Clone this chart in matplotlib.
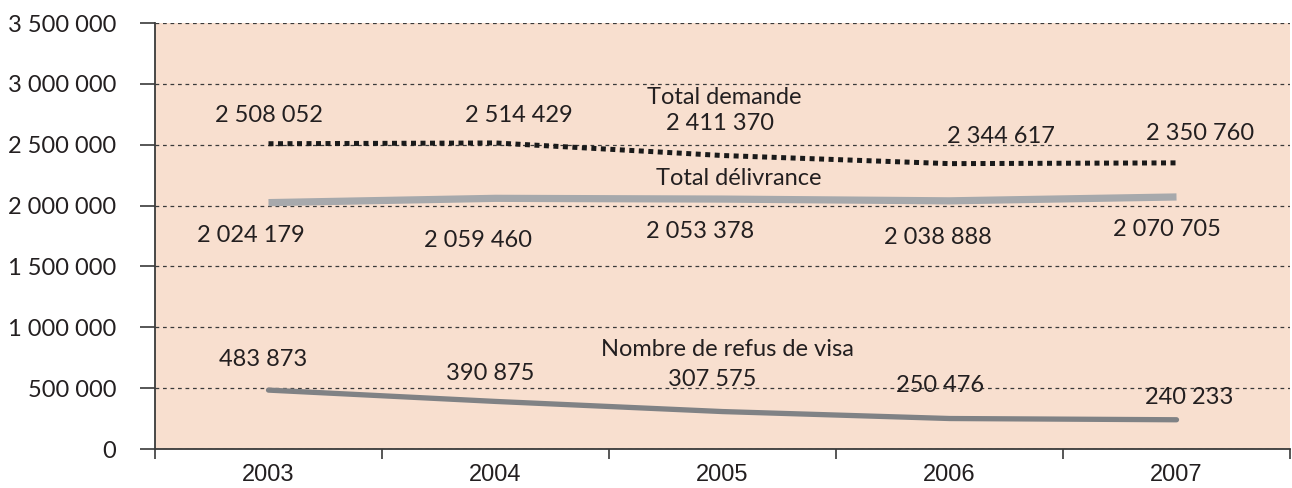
import matplotlib
matplotlib.use("Agg")
import matplotlib.pyplot as plt

years = ["2003", "2004", "2005", "2006", "2007"]
demande = [2508052, 2514429, 2411370, 2344617, 2350760]
delivrance = [2024179, 2059460, 2053378, 2038888, 2070705]
refus = [483873, 390875, 307575, 250476, 240233]
yticks = [0, 500000, 1000000, 1500000, 2000000, 2500000, 3000000, 3500000]

def fmt(v):
    return f"{v:,}".replace(",", " ")

plt.rcParams['font.family'] = ['Lato', 'DejaVu Sans']
fig = plt.figure(figsize=(12.92, 4.88), dpi=100)
ax = fig.add_axes([155/1292, 1-449/488, (1290-155)/1292, (449-23)/488])
ax.set_facecolor('#F8DFCF')

x = list(range(len(years)))
ax.plot(x, delivrance, color='#A7A9AC', lw=5.2, solid_capstyle='butt', zorder=3)
ax.plot(x, refus, color='#808285', lw=3.8, solid_capstyle='round', zorder=3)
ax.plot(x, demande, color='#1a1a1a', lw=3.6, linestyle=(0, (1, 0.9)), dash_capstyle='butt', zorder=3)

ax.set_xlim(-0.5, 4.5)
ax.set_ylim(0, 3500000)
ax.set_yticks(yticks)
ax.set_yticklabels([fmt(v) for v in yticks])
ax.set_xticks([i - 0.5 for i in range(len(years) + 1)])
ax.set_xticklabels([])
ax.set_xticks(x, minor=True)
ax.set_xticklabels(years, minor=True, family=['Liberation Sans', 'DejaVu Sans'])
ax.tick_params(axis='x', which='minor', length=0, pad=11, labelsize=17, colors='#231f20')
ax.tick_params(axis='x', which='major', length=7, width=1.2, color='#3a3a3a', direction='out')
ax.tick_params(axis='y', length=11, width=1.2, color='#3a3a3a', labelsize=17, labelcolor='#231f20', pad=17)

ax.grid(axis='y', linestyle=(0, (3, 3)), color='#3a3a3a', lw=0.9, zorder=1)
ax.set_axisbelow(True)
for s in ['top', 'right']:
    ax.spines[s].set_visible(False)
for s in ['left', 'bottom']:
    ax.spines[s].set_color('#3a3a3a')
    ax.spines[s].set_linewidth(1.3)

def px_x(p):
    return (p - 268) / 227.0

def px_y(p):
    return (449 - p) / 426.0 * 3500000

tc = '#231f20'
fs = 17
dem_pos = [(268, 115), (518, 115), (720, 124), (1000, 136), (1200, 133)]
del_pos = [(250, 236), (478, 240), (700, 232), (937, 237), (1166, 229)]
ref_pos = [(263, 360), (490, 374), (712, 379), (940, 385), (1189, 398)]
for vals, pos in [(demande, dem_pos), (delivrance, del_pos), (refus, ref_pos)]:
    for v, (px, py) in zip(vals, pos):
        ax.text(px_x(px), px_y(py), fmt(v), ha='center', va='center', fontsize=fs, color=tc, zorder=4)

ax.text(px_x(724), px_y(97), "Total demande", ha='center', va='center', fontsize=fs, color=tc, zorder=4)
ax.text(px_x(738), px_y(178), "Total délivrance", ha='center', va='center', fontsize=fs, color=tc, zorder=4)
ax.text(px_x(727), px_y(349), "Nombre de refus de visa", ha='center', va='center', fontsize=fs, color=tc, zorder=4)

fig.savefig("out.png", dpi=100)
